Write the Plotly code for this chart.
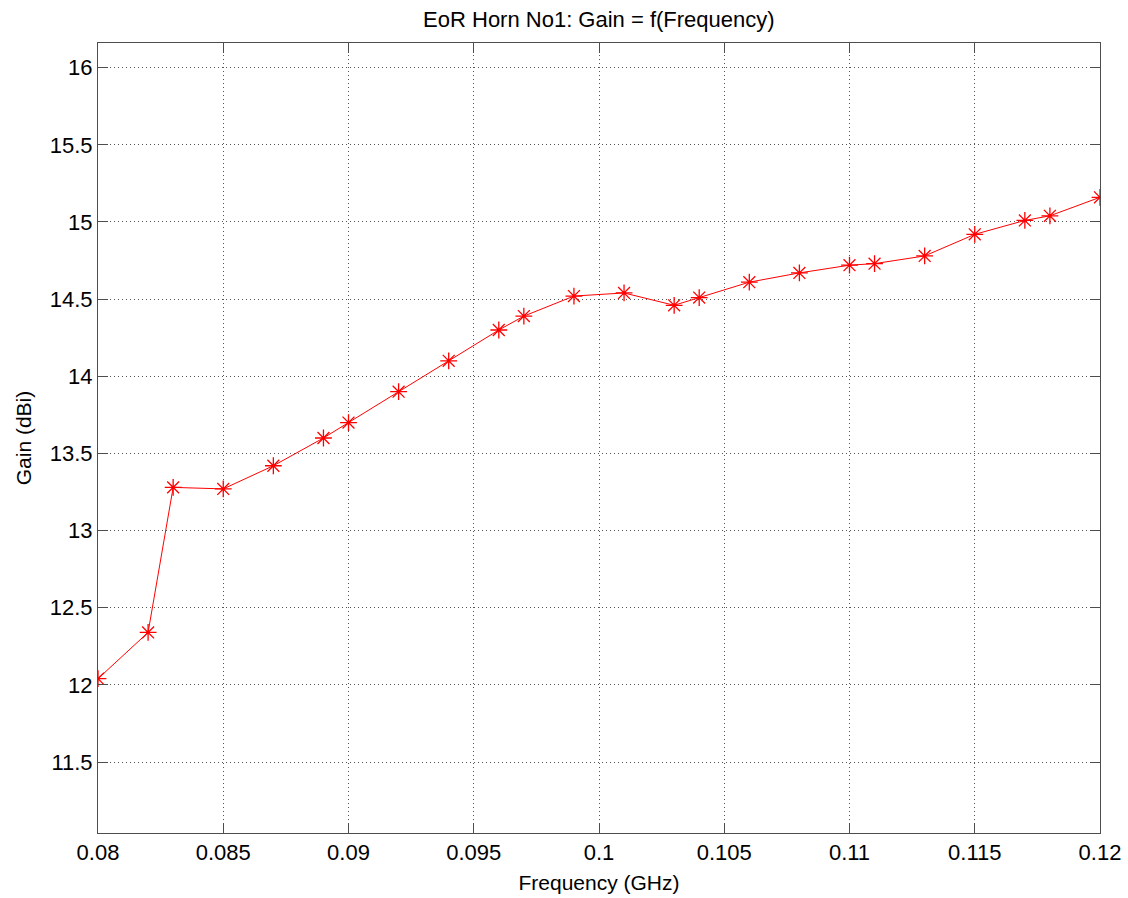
import plotly.graph_objects as go

freq_ghz = [0.080, 0.082, 0.083, 0.085, 0.087, 0.089, 0.090, 0.092, 0.094, 0.096,
            0.097, 0.099, 0.101, 0.103, 0.104, 0.106, 0.108, 0.110, 0.111, 0.113,
            0.115, 0.117, 0.118, 0.120]
gain_dbi = [12.04, 12.34, 13.28, 13.27, 13.42, 13.60, 13.70, 13.90, 14.10, 14.30,
            14.39, 14.52, 14.54, 14.46, 14.51, 14.61, 14.67, 14.72, 14.73, 14.78,
            14.92, 15.01, 15.04, 15.16]

x_tickvals = [0.08, 0.085, 0.09, 0.095, 0.1, 0.105, 0.11, 0.115, 0.12]
x_ticktext = ["0.08", "0.085", "0.09", "0.095", "0.1", "0.105", "0.11", "0.115", "0.12"]
y_tickvals = [11.5, 12, 12.5, 13, 13.5, 14, 14.5, 15, 15.5, 16]
y_ticktext = ["11.5", "12", "12.5", "13", "13.5", "14", "14.5", "15", "15.5", "16"]

FONT = "Liberation Sans, Arial, sans-serif"

fig = go.Figure()
fig.add_trace(go.Scatter(
    x=freq_ghz, y=gain_dbi, mode="lines+markers",
    line=dict(color="#ff0000", width=1),
    marker=dict(symbol="asterisk-open", size=14, color="#ff0000",
                line=dict(color="#ff0000", width=1.3)),
    showlegend=False,
))

axis_common = dict(
    showline=True, linecolor="#4d4d4d", linewidth=1, mirror="allticks",
    ticks="inside", ticklen=10, tickcolor="#4d4d4d", tickwidth=1,
    showgrid=True, gridcolor="#555555", griddash="1px,3px", gridwidth=1,
    zeroline=False,
    tickfont=dict(family=FONT, size=22, color="black"),
)

fig.update_xaxes(
    range=[0.08, 0.12], tickmode="array", tickvals=x_tickvals, ticktext=x_ticktext,
    title=dict(text="Frequency (GHz)", font=dict(family=FONT, size=21, color="black"), standoff=10),
    **axis_common,
)
fig.update_yaxes(
    range=[11.04, 16.16], tickmode="array", tickvals=y_tickvals, ticktext=y_ticktext,
    title=dict(text="Gain (dBi)", font=dict(family=FONT, size=21, color="black"), standoff=12),
    **axis_common,
)

fig.update_layout(
    width=1128, height=898,
    margin=dict(l=98, r=28, t=43, b=65, autoexpand=False),
    paper_bgcolor="white", plot_bgcolor="white",
    title=dict(text="EoR Horn No1: Gain = f(Frequency)", x=0.5309, xanchor="center",
               y=1 - 19 / 898, yanchor="middle",
               font=dict(family=FONT, size=22, color="black")),
)

fig.write_html("out.html")
